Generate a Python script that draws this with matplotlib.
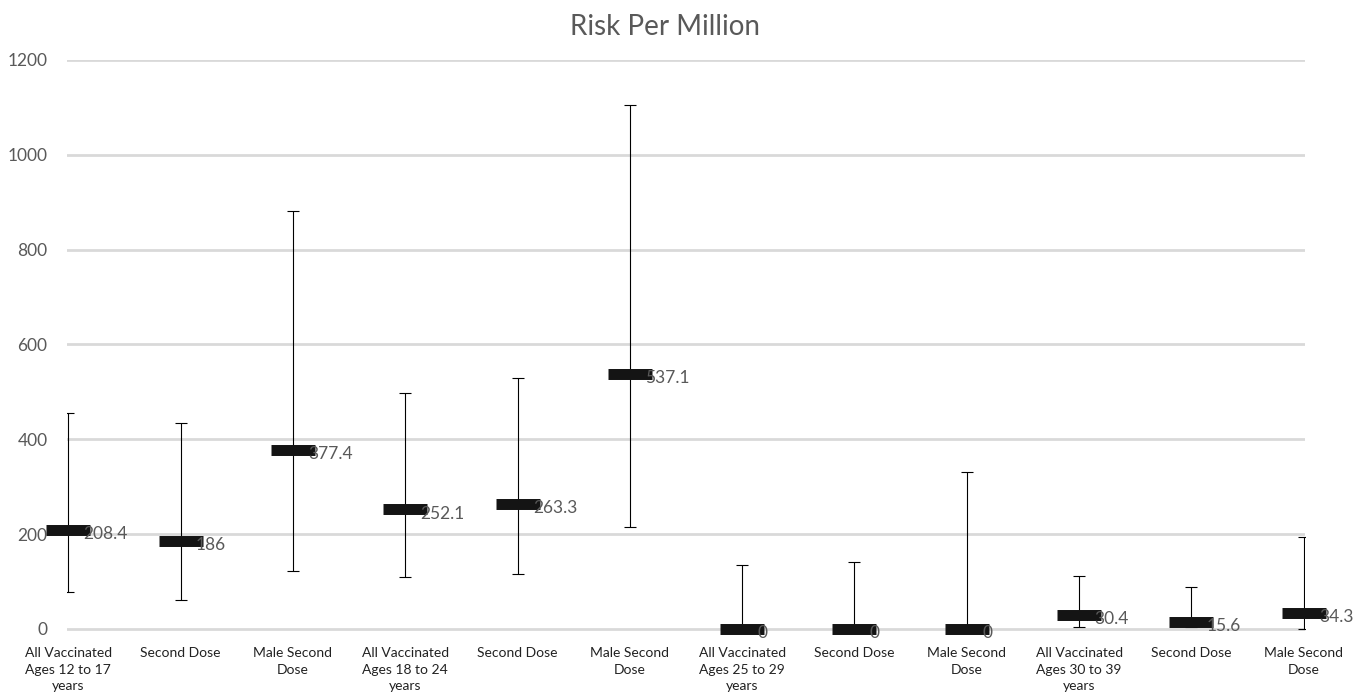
import matplotlib
matplotlib.use("Agg")
import matplotlib.pyplot as plt
import numpy as np

categories = [
    "All Vaccinated\nAges 12 to 17\nyears", "Second Dose", "Male Second\nDose",
    "All Vaccinated\nAges 18 to 24\nyears", "Second Dose", "Male Second\nDose",
    "All Vaccinated\nAges 25 to 29\nyears", "Second Dose", "Male Second\nDose",
    "All Vaccinated\nAges 30 to 39\nyears", "Second Dose", "Male Second\nDose",
]
risk = [208.4, 186, 377.4, 252.1, 263.3, 537.1, 0, 0, 0, 30.4, 15.6, 34.3]
lower = [77, 61, 123, 109, 116, 216, 0, 0, 0, 5, 4, 0]
upper = [455, 435, 881, 498, 529, 1106, 136, 142, 332, 111, 88, 193]
labels = ["208.4", "186", "377.4", "252.1", "263.3", "537.1", "0", "0", "0", "30.4", "15.6", "34.3"]
yticks = [0, 200, 400, 600, 800, 1000, 1200]

plt.rcParams['font.family'] = ['Lato', 'DejaVu Sans']
grey = '#595959'

fig = plt.figure(figsize=(13.62, 6.99), dpi=100)
ax = fig.add_axes([0.0492, 0.0798, 0.9090, 0.8344])

x = np.arange(len(categories))
r = np.array(risk)
yerr = np.vstack([r - np.array(lower), np.array(upper) - r])

ax.set_xlim(-0.012, len(categories) - 1 + 0.012)
ax.set_ylim(-30, 1200)
ax.set_yticks(yticks)
ax.set_yticklabels([str(v) for v in yticks])
ax.yaxis.grid(True, color='#d9d9d9', linewidth=2.0, zorder=0)
ax.set_axisbelow(True)
for s in ax.spines.values():
    s.set_visible(False)
ax.tick_params(axis='both', length=0, colors=grey)
ax.tick_params(axis='y', labelsize=12.5, pad=14)
ax.set_xticks(x)
ax.set_xticklabels(categories, fontsize=10, color='#222222', linespacing=1.45)
ax.tick_params(axis='x', pad=3)

eb = ax.errorbar(x, r, yerr=yerr, fmt='none', ecolor='black', elinewidth=0.8,
                 capsize=4.3, capthick=0.8, zorder=2)

ax.plot(x, r, linestyle='none', marker='_', markersize=31.7, markeredgewidth=7.9,
        color='#141414', zorder=3, clip_on=False)

for xi, yi, lab in zip(x, r, labels):
    ax.annotate(lab, (xi, yi), xytext=(11, -3), textcoords='offset points',
                ha='left', va='center', fontsize=12.5, color=grey, zorder=4,
                annotation_clip=False)

fig.text(0.488, 0.962, "Risk Per Million", ha='center', va='center',
         fontsize=20, color=grey)

fig.savefig("out.png", dpi=100)
